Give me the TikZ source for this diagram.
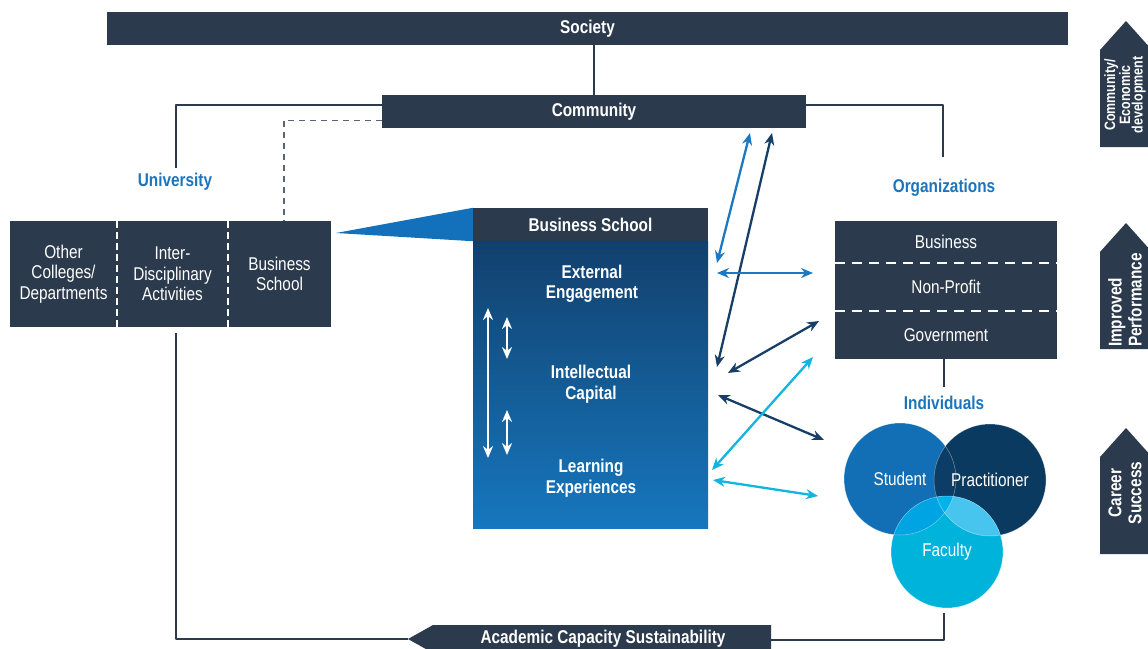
\documentclass[tikz,border=0pt]{standalone}
\usepackage{fontspec}
\setmainfont{Liberation Sans}[FakeStretch=0.83]
\usetikzlibrary{arrows.meta,calc}
\definecolor{navy}{HTML}{2B3A4C}
\definecolor{uniblue}{HTML}{1C75BC}
\definecolor{bstop}{HTML}{12406D}
\definecolor{bsbot}{HTML}{1677BE}
\definecolor{tri}{HTML}{1271BA}
\definecolor{ablue}{HTML}{1B78C2}
\definecolor{adark}{HTML}{173E66}
\definecolor{acyan}{HTML}{13B4DE}
\definecolor{cstu}{HTML}{136FB5}
\definecolor{cpra}{HTML}{0B3A60}
\definecolor{cfac}{HTML}{00B3DB}
\definecolor{csp}{HTML}{0C3D66}
\definecolor{csf}{HTML}{00A4E2}
\definecolor{cpf}{HTML}{48C5EF}
\definecolor{cmid}{HTML}{00B2EA}
\definecolor{dashgray}{HTML}{5A6573}
\begin{document}
\begin{tikzpicture}[x=1pt, y=-1pt, font=\fontsize{18.5}{20.5}\selectfont, line join=round, >={Stealth[length=12pt,width=10pt]},
	darkbox/.style={fill=navy, text=white, inner sep=0pt, align=center},
	hd/.style={font=\fontsize{18.5}{20.5}\selectfont\bfseries},
	lbl/.style={text=uniblue, font=\fontsize{18.5}{20.5}\selectfont\bfseries},
	link/.style={navy, line width=2pt},
	divider/.style={white, line width=1.5pt, dash pattern=on 7pt off 4pt},
	dbl/.style={<->, line width=2.3pt},
	warrow/.style={<->, white, line width=2.5pt},
	disc/.style={circle, minimum size=112pt, inner sep=0pt},
	badge/.style={text=white, rotate=90, inner sep=0pt, font=\fontsize{18.5}{20}\selectfont\bfseries}]
	\useasboundingbox (0,0) rectangle (1148,648);
	\clip (0,0) rectangle (1148,648);
	% top
	\node[darkbox, hd, minimum width=961pt, minimum height=33pt] (society) at (587.5,28.5) {Society};
	\node[darkbox, hd, minimum width=424pt, minimum height=33pt] (community) at (594,111.5) {Community};
	\draw[link] (society.south -| community.north) -- (community.north);
	\coordinate (unitop) at (176,168);
	\coordinate (orgtop) at (943,157);
	\draw[link] ($(community.north west)+(0,10)$) -| (unitop);
	\draw[link] ($(community.north east)+(0,10)$) -| (orgtop);
	% university
	\node[lbl] (univ) at (175,182) {University};
	\node[darkbox, minimum width=107pt, minimum height=106pt] (cother) at (63.5,274) {Other\\Colleges/\\Departments};
	\node[darkbox, minimum width=111pt, minimum height=106pt] (cinter) at (172.5,274) {Inter-\\Disciplinary\\Activities};
	\node[darkbox, minimum width=103pt, minimum height=106pt] (cbs) at (279.5,274) {Business\\School};
	\draw[divider] (cother.north east) -- (cother.south east);
	\draw[divider] (cinter.north east) -- (cinter.south east);
	\draw[dashgray, line width=1.2pt, dash pattern=on 6pt off 5pt] ($(community.south west)+(0,-8)$) -| ($(cbs.north)+(4.5,0)$);
	% business school
	\node[minimum width=235pt, minimum height=287pt, inner sep=0pt, top color=bstop, bottom color=bsbot] (bsbody) at (590.5,384.5) {};
	\coordinate (tritip) at (336,233);
	\node[darkbox, hd, minimum width=235pt, minimum height=33pt] (bshead) at (590.5,224.5) {Business School};
	\fill[tri] (tritip) -- (bshead.north west) -- (bshead.south west) -- cycle;
	\node[hd, text=white, align=center] (ext) at (592,284) {External\\Engagement};
	\node[hd, text=white, align=center] (icap) at (591,384) {Intellectual\\Capital};
	\node[hd, text=white, align=center] (lexp) at (591,478) {Learning\\Experiences};
	\draw[warrow] (488,308) -- (488,458);
	\draw[warrow] (507,317) -- (507,359);
	\draw[warrow] (507,410) -- (507,455);
	% organizations
	\node[lbl] (orglbl) at (944,188) {Organizations};
	\node[darkbox, minimum width=222pt, minimum height=42pt] (obus) at (946,242) {Business};
	\node[darkbox, minimum width=222pt, minimum height=48pt] (onp) at (946,287) {Non-Profit};
	\node[darkbox, minimum width=222pt, minimum height=48pt] (ogov) at (946,335) {Government};
	\draw[divider, dash pattern=on 10pt off 7pt] (obus.south west) -- (obus.south east);
	\draw[divider, dash pattern=on 10pt off 7pt] (onp.south west) -- (onp.south east);
	\draw[link] ($(ogov.south)+(-2,0)$) -- ++(0,28);
	% individuals
	\node[lbl] (indlbl) at (944,403) {Individuals};
	\node[disc, fill=cstu] (stu) at (900,479) {};
	\node[disc, fill=cpra] (pra) at (990,480) {};
	\node[disc, fill=cfac] (fac) at (947,552) {};
	\begin{scope}
		\clip (stu.center) circle (56pt);
		\fill[csp] (pra.center) circle (56pt);
		\fill[csf] (fac.center) circle (56pt);
	\end{scope}
	\begin{scope}
		\clip (pra.center) circle (56pt);
		\fill[cpf] (fac.center) circle (56pt);
		\clip (stu.center) circle (56pt);
		\fill[cmid] (fac.center) circle (56pt);
	\end{scope}
	\foreach \c in {stu,pra,fac}
		\draw[white, opacity=0.45, line width=0.5pt] (\c.center) circle (56pt);
	\node[text=white] (tstu) at (stu.center) {Student};
	\node[text=white] (tpra) at (pra.center) {Practitioner};
	\node[text=white] (tfac) at (fac.center) {Faculty};
	% bottom
	\coordinate (acstip) at (408,639);
	\coordinate (acsend) at (771,640);
	\fill[navy] (acstip) -- (433,625) -- (771,625) -- (771,653) -- (433,653) -- cycle;
	\node[hd, text=white] (acs) at (603,638.5) {Academic Capacity Sustainability};
	\draw[link] (176,333) |- (acstip);
	\draw[link] ($(fac.south)+(-3,5)$) |- (acsend);
	% arrows
	\coordinate (cm1) at (750,133); \coordinate (cm2) at (772,133);
	\coordinate (ee1) at (717,263); \coordinate (ee2) at (717,273);
	\coordinate (ic1) at (717,367); \coordinate (ic2) at (728,373); \coordinate (ic3) at (718,395);
	\coordinate (le1) at (712,470); \coordinate (le2) at (713,480);
	\coordinate (or1) at (813,273); \coordinate (or2) at (819,321); \coordinate (or3) at (813,357);
	\coordinate (in1) at (824,440); \coordinate (in2) at (818,496);
	\foreach \s/\t/\c in {ee1/cm1/ablue, ic1/cm2/adark, ee2/or1/ablue, ic2/or2/adark, ic3/in1/adark, le1/or3/acyan, le2/in2/acyan}
		\draw[dbl, \c] (\s) -- (\t);
	% outcomes
	\foreach \t in {21,223,428}
		\fill[navy] (1100,\t+29) -- (1126,\t) -- (1152,\t+29) -- (1152,\t+126) -- (1100,\t+126) -- cycle;
	\node[badge, align=center, font=\fontsize{15}{12.5}\selectfont\bfseries] (bcomm) at (1125,95) {Community/\\Economic\\development};
	\node[badge, align=left] (bperf) at (1125,300) {Improved\\Performance};
	\node[badge, align=center] (bcar) at (1125,493) {Career\\Success};
\end{tikzpicture}
\end{document}
